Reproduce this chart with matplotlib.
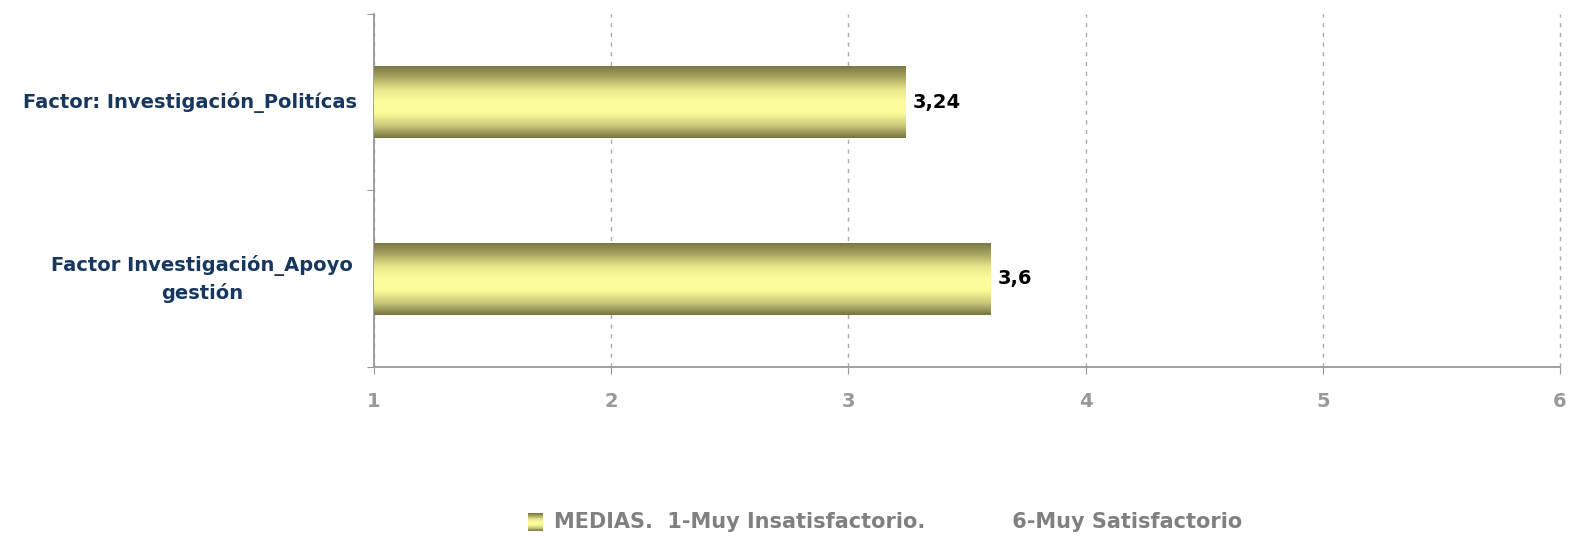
import matplotlib.pyplot as plt
import numpy as np
from matplotlib.colors import LinearSegmentedColormap

categories = ["Factor Investigación_Apoyo\ngestión", "Factor: Investigación_Politícas"]
values = [3.6, 3.24]
value_labels = ["3,6", "3,24"]
xticks = [1, 2, 3, 4, 5, 6]
legend_label = "MEDIAS.  1-Muy Insatisfactorio.            6-Muy Satisfactorio"

plt.rcParams['font.family'] = ['DejaVu Sans']

fig = plt.figure(figsize=(15.77, 5.37), dpi=100)
ax = fig.add_axes([0.2372, 0.3166, 0.7520, 0.6574])

# gradient: dark olive at edges, pale yellow in the middle
cmap = LinearSegmentedColormap.from_list(
    "olive", ["#77733f", "#c9c77a", "#fbfb98", "#fdfd9e", "#e8e68a", "#a9a662", "#77733f"])
grad = np.linspace(0, 1, 256).reshape(-1, 1)

bar_h = 0.41
bars = ax.barh(range(len(values)), [v - 1 for v in values], left=1, height=bar_h,
               color="none", edgecolor="none", zorder=3)
for b in bars:
    x0, y0 = b.get_x(), b.get_y()
    w, h = b.get_width(), b.get_height()
    im = ax.imshow(grad, cmap=cmap, aspect="auto", extent=[x0, x0 + w, y0, y0 + h],
                   origin="lower", zorder=3)
    im.set_clip_path(b)

for i, (v, lab) in enumerate(zip(values, value_labels)):
    ax.text(v + 0.03, i, lab, va="center", ha="left", fontsize=14,
            fontweight="bold", color="black", zorder=4)

ax.set_xlim(1, 6)
ax.set_ylim(-0.5, 1.5)
ax.set_xticks(xticks)
ax.set_xticklabels([str(t) for t in xticks], fontsize=14, fontweight="bold", color="#999999")
ax.tick_params(axis="x", direction="out", length=5, color="#999999", pad=13)

ax.set_yticks([-0.5, 0.5, 1.5])
ax.set_yticklabels([])
ax.tick_params(axis="y", direction="out", length=5, color="#999999")

# category labels
ax.text(-0.014, 1, categories[1], transform=ax.get_yaxis_transform(), ha="right", va="center",
        fontsize=14, fontweight="bold", color="#17375e")
ax.text(-0.145, 0, categories[0], transform=ax.get_yaxis_transform(), ha="center", va="center",
        fontsize=14, fontweight="bold", color="#17375e", linespacing=1.45)

ax.grid(axis="x", color="#aaaaaa", linestyle=(0, (3, 4)), linewidth=1, zorder=0)
for gl in ax.get_xgridlines():
    gl.set_clip_on(False)
ax.set_axisbelow(True)
for s in ["top", "right"]:
    ax.spines[s].set_visible(False)
for s in ["left", "bottom"]:
    ax.spines[s].set_color("#999999")
    ax.spines[s].set_linewidth(1.3)

# legend
lx, ly = 0.335, 0.012
lax = fig.add_axes([lx, ly, 0.009, 0.032])
lax.imshow(grad, cmap=cmap, aspect="auto", origin="lower")
lax.axis("off")
fig.text(lx + 0.016, ly + 0.016, legend_label, ha="left", va="center", fontsize=15,
         fontweight="bold", color="#808080")

fig.savefig("out.png", dpi=100)
